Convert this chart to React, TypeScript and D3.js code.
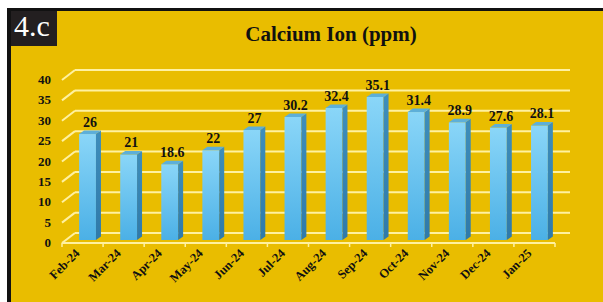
import * as d3 from "d3";

const months = ["Feb-24", "Mar-24", "Apr-24", "May-24", "Jun-24", "Jul-24", "Aug-24", "Sep-24", "Oct-24", "Nov-24", "Dec-24", "Jan-25"];
const calcium = [26, 21, 18.6, 22, 27, 30.2, 32.4, 35.1, 31.4, 28.9, 27.6, 28.1];
const yTicks = [0, 5, 10, 15, 20, 25, 30, 35, 40];

const W = 603;
const H = 302;
const serif = "Liberation Serif, DejaVu Serif, serif";

// oblique offsets for the fake 3D
const wallDx = 13;
const wallDy = -10;
const barDx = 5;
const barDy = -3;
const sideDx = 5;
const sideDy = -3.5;

export default function App() {
  const x = d3.scaleBand<string>().domain(months).range([62, 555]).paddingInner(0).paddingOuter(0);
  const y = d3.scaleLinear().domain([0, 40]).range([243, 80]);
  const step = x.step();
  const bw = step * 0.41;

  return (
    <svg width={W} height={H} style={{ position: "absolute", left: 0, top: 0 }}>
      <defs>
        <linearGradient id="front" x1="0" y1="0" x2="0" y2="1">
          <stop offset="0" stopColor="#8AD6F8" />
          <stop offset="1" stopColor="#4BB0E6" />
        </linearGradient>
        <linearGradient id="side" x1="0" y1="0" x2="0" y2="1">
          <stop offset="0" stopColor="#3E8EBB" />
          <stop offset="1" stopColor="#2F7AAA" />
        </linearGradient>
      </defs>
      <rect x={0} y={0} width={W} height={H} fill="#ffffff" />
      <rect x={7} y={8} width={W - 7} height={H - 8} fill="#111111" />
      <rect x={11} y={11} width={W - 11} height={H - 11} fill="#E9BD00" />

      <rect x={11} y={11} width={46} height={35} fill="#231F20" />
      <text x={14} y={36} fill="#ffffff" fontFamily={serif} fontSize={30}>
        4.c
      </text>

      <text x={331} y={41} textAnchor="middle" fontFamily={serif} fontWeight="bold" fontSize={21} fill="#111">
        Calcium Ion (ppm)
      </text>

      {/* gridlines: slant on the side wall + back line */}
      {yTicks.map((t) => (
        <g key={t} stroke="#FFF1A0" strokeWidth={2} fill="none">
          <line x1={62} y1={y(t)} x2={62 + wallDx} y2={y(t) + wallDy} />
          <line x1={62 + wallDx} y1={y(t) + wallDy} x2={555 + wallDx + 2} y2={y(t) + wallDy} />
        </g>
      ))}
      {/* front edge of floor + ticks */}
      <line x1={62} y1={y(0)} x2={555} y2={y(0)} stroke="#FFF1A0" strokeWidth={2} />
      {d3.range(months.length + 1).map((i) => (
        <line key={i} x1={62 + i * step} y1={y(0)} x2={62 + i * step} y2={y(0) + 4} stroke="#FFF1A0" strokeWidth={1.5} />
      ))}

      {yTicks.map((t) => (
        <text key={t} x={51} y={y(t) + 4} textAnchor="end" fontFamily={serif} fontWeight="bold" fontSize={13} fill="#111">
          {t}
        </text>
      ))}

      {months.map((m, i) => {
        const v = calcium[i];
        const x0 = (x(m) ?? 0) + (step - bw) / 2 + barDx;
        const x1 = x0 + bw;
        const yb = y(0) + barDy;
        const yt = y(v) + barDy;
        return (
          <g key={m}>
            <rect x={x0} y={yt} width={bw} height={yb - yt} fill="url(#front)" />
            <path
              d={`M${x1},${yt}L${x1 + sideDx},${yt + sideDy}L${x1 + sideDx},${yb + sideDy}L${x1},${yb}Z`}
              fill="url(#side)"
            />
            <path
              d={`M${x0},${yt}L${x0 + sideDx},${yt + sideDy}L${x1 + sideDx},${yt + sideDy}L${x1},${yt}Z`}
              fill="#5DAFD9"
            />
            <text
              x={(x0 + x1 + sideDx) / 2}
              y={yt - 7}
              textAnchor="middle"
              fontFamily={serif}
              fontWeight="bold"
              fontSize={14}
              fill="#111"
            >
              {v}
            </text>
          </g>
        );
      })}

      {months.map((m) => {
        const cx = (x(m) ?? 0) + step / 2 - 2;
        return (
          <text
            key={m}
            transform={`translate(${cx},${y(0) + 11}) rotate(-45)`}
            textAnchor="end"
            fontFamily={serif}
            fontWeight="bold"
            fontSize={12.5}
            fill="#111"
          >
            {m}
          </text>
        );
      })}
    </svg>
  );
}
